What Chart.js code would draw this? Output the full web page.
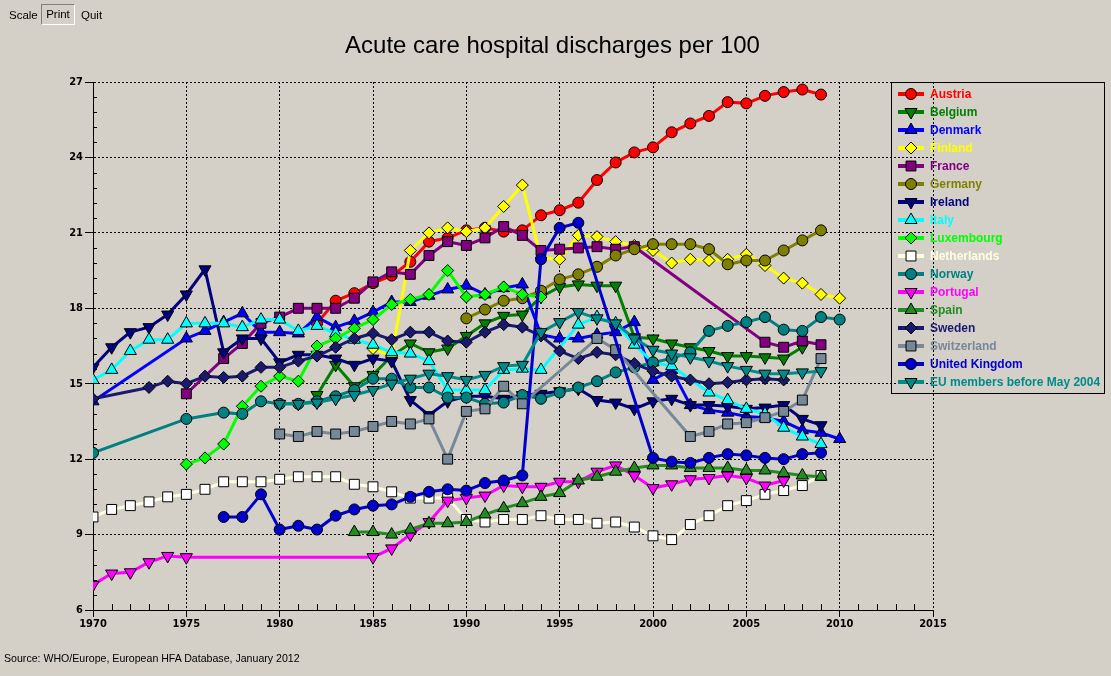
<!DOCTYPE html>
<html>
<head>
<meta charset="utf-8">
<script src="https://cdn.jsdelivr.net/npm/chart.js@4.4.1/dist/chart.umd.min.js"></script>
<style>
  html, body { margin:0; padding:0; }
  body { width:1111px; height:676px; overflow:hidden; position:relative; background:#d4d0c8; font-family:"Liberation Sans", Arial, sans-serif; }
  #chart { position:absolute; left:0; top:0; }
  .tb { position:absolute; top:7px; font-size:11.5px; color:#000; line-height:16px; }
  #btn { position:absolute; left:41px; top:4px; width:32px; height:19px; border-top:1px solid #808080; border-left:1px solid #808080; border-right:1px solid #fff; border-bottom:1px solid #fff; font-size:11.5px; line-height:19px; text-align:center; }
  #title { position:absolute; left:0; width:1105px; top:30px; text-align:center; font-size:24px; line-height:30px; color:#000; }
  #source { position:absolute; left:4px; top:651px; font-size:10.6px; line-height:14px; color:#000; }
</style>
</head>
<body>
<canvas id="chart" width="1111" height="676"></canvas>
<div class="tb" style="left:9px">Scale</div>
<div id="btn">Print</div>
<div class="tb" style="left:81px">Quit</div>
<div id="title">Acute care hospital discharges per 100</div>
<div id="source">Source: WHO/Europe, European HFA Database, January 2012</div>
<script>
const _ = null;
// years 1970 .. 2010
const years = [];
for (let y = 1970; y <= 2010; y++) years.push(y);

const xTicks = [1970, 1975, 1980, 1985, 1990, 1995, 2000, 2005, 2010, 2015];
const yTicks = [6, 9, 12, 15, 18, 21, 24, 27];

//               1970 ............................................ 1979 | 1980 ........................................... 1989 | 1990 ............................................ 1999 | 2000 ............................................ 2009 | 2010
const austria     = [_,_,_,_,_,_,_,_,_,_,                       _,_,17.4,18.3,18.6,19.0,19.3,19.85,20.65,20.8,               21.1,21.2,21.05,21.1,21.7,21.9,22.2,23.1,23.8,24.2,          24.4,25.0,25.35,25.65,26.2,26.15,26.45,26.6,26.7,26.5,      _];
const belgium     = [_,_,_,_,_,_,_,_,_,_,                       _,_,14.55,15.75,14.9,15.35,16.1,16.6,16.25,16.4,             16.9,17.4,17.7,17.75,18.45,18.85,18.95,18.9,18.9,16.85,      16.8,16.6,16.45,16.3,16.1,16.1,16.05,16.0,16.45,_,          _];
const denmark     = [14.3,_,_,_,_,16.8,17.1,17.45,17.8,17.05,   17.05,17.0,17.65,17.25,17.5,17.85,18.25,18.25,18.5,18.75,    18.9,18.55,18.8,18.95,16.95,16.8,16.8,16.95,17.05,17.45,     15.15,15.55,14.15,13.95,13.85,13.7,13.65,13.5,13.15,13.05,  12.8];
const finland     = [_,_,_,_,_,_,_,_,_,_,                       _,_,_,_,_,16.4,16.1,20.3,21.0,21.2,                          21.05,21.2,22.05,22.9,20.0,19.95,20.9,20.85,20.65,20.5,      20.3,19.8,19.95,19.9,19.95,20.15,19.7,19.2,19.0,18.55,      18.4];
const france      = [_,_,_,_,_,14.6,_,16.0,16.6,17.4,           17.65,18.0,18.0,18.0,18.4,19.05,19.45,19.35,20.1,20.65,      20.5,20.8,21.25,20.9,20.3,20.35,20.4,20.45,20.35,20.45,      _,_,_,_,_,_,16.65,16.45,16.7,16.55,                         _];
const germany     = [_,_,_,_,_,_,_,_,_,_,                       _,_,_,_,_,_,_,_,_,_,                                         17.6,17.95,18.3,18.4,18.7,19.15,19.35,19.65,20.1,20.35,      20.55,20.55,20.55,20.35,19.75,19.9,19.9,20.3,20.7,21.1,     _];
const ireland     = [15.65,16.45,17.05,17.25,17.75,18.55,19.55,16.25,16.8,16.8, 15.85,16.15,16.15,16.0,15.75,16.0,15.9,14.35,13.75,14.3, 14.5,14.5,14.4,14.55,14.6,14.7,14.8,14.35,14.25,14.0,         14.3,14.4,14.15,14.15,14.1,14.0,14.05,14.15,13.6,13.35,     _];
const italy       = [15.15,15.55,16.3,16.75,16.75,17.4,17.4,17.4,17.25,17.55, 17.55,17.1,17.3,17.0,16.75,16.55,16.25,16.2,15.9,14.75,  14.75,14.75,15.55,15.6,15.55,_,17.35,17.65,17.4,16.55,       15.85,15.7,_,14.65,14.35,14.0,13.8,13.25,12.9,12.6,         _];
const luxembourg  = [_,_,_,_,_,11.8,12.05,12.6,14.1,14.9,       15.3,15.1,16.5,16.8,17.2,17.55,18.15,18.35,18.55,19.5,       18.45,18.55,18.85,18.55,18.45,_,_,_,_,_,                     _,_,_,_,_,_,_,_,_,_,                                        _];
const netherlands = [9.7,10.0,10.15,10.3,10.5,10.6,10.8,11.1,11.1,11.1, 11.2,11.3,11.3,11.3,11.0,10.9,10.7,10.45,10.45,10.45,      9.6,9.5,9.6,9.6,9.75,9.6,9.6,9.45,9.5,9.3,                   8.95,8.8,9.4,9.75,10.15,10.35,10.6,10.75,10.95,11.35,       _];
const norway      = [12.25,_,_,_,_,13.6,_,13.85,13.8,14.3,      14.2,14.2,14.3,14.5,14.75,15.2,15.2,14.85,14.85,14.45,       14.45,14.2,14.25,14.55,14.4,14.65,14.85,15.1,15.45,15.65,    15.85,16.0,16.25,17.1,17.3,17.45,17.65,17.15,17.1,17.65,    17.55];
const portugal    = [7.0,7.45,7.5,7.9,8.15,8.1,_,_,_,_,         _,_,_,_,_,8.1,8.45,9.0,9.5,10.35,                            10.45,10.55,10.95,10.9,10.9,11.1,11.1,11.5,11.75,11.35,      10.85,11.0,11.2,11.25,11.35,11.25,10.95,11.15,_,_,          _];
const spain       = [_,_,_,_,_,_,_,_,_,_,                       _,_,_,_,9.1,9.1,9.0,9.2,9.45,9.45,                           9.5,9.8,10.05,10.25,10.5,10.65,11.15,11.3,11.5,11.65,        11.75,11.75,11.65,11.65,11.65,11.55,11.55,11.45,11.35,11.3, _];
const sweden      = [14.4,_,_,14.85,15.1,15.0,15.3,15.25,15.3,15.65, 15.65,15.9,16.1,16.45,16.8,17.0,16.75,17.05,17.05,16.7,    16.65,17.05,17.35,17.25,16.9,16.3,16.0,16.25,16.15,15.8,     15.5,15.3,15.15,15.0,15.05,15.15,15.2,15.15,_,_,            _];
const switzerland = [_,_,_,_,_,_,_,_,_,_,                       13.0,12.9,13.1,13.0,13.1,13.3,13.5,13.4,13.6,12.0,           13.9,14.0,14.9,14.2,_,_,_,16.8,16.35,_,                      _,_,12.9,13.1,13.4,13.45,13.65,13.9,14.35,16.0,             _];
const uk          = [_,_,_,_,_,_,_,9.7,9.7,10.6,                9.2,9.35,9.2,9.75,10.0,10.15,10.2,10.5,10.7,10.8,            10.75,11.05,11.15,11.35,19.95,21.2,21.4,_,_,_,               12.05,11.9,11.85,12.05,12.2,12.15,12.05,12.0,12.2,12.25,    _];
const eu          = [_,_,_,_,_,_,_,_,_,_,                       14.2,14.2,14.25,14.4,14.55,14.75,15.0,15.2,15.4,15.3,        15.15,15.35,15.7,15.75,17.05,17.45,17.85,17.6,17.4,16.8,     16.35,16.2,16.05,15.9,15.7,15.55,15.4,15.4,15.45,15.5,      _];

const seriesNames = ['Austria','Belgium','Denmark','Finland','France','Germany','Ireland','Italy','Luxembourg','Netherlands','Norway','Portugal','Spain','Sweden','Switzerland','United Kingdom','EU members before May 2004'];
const seriesValues = [austria,belgium,denmark,finland,france,germany,ireland,italy,luxembourg,netherlands,norway,portugal,spain,sweden,switzerland,uk,eu];
const seriesColors = ['#ff0000','#008000','#0000ff','#ffff00','#800080','#808000','#000080','#00ffff','#00ff00','#ffffe0','#008080','#ff00ff','#228b22','#191970','#778899','#0000cd','#008b8b'];
const markerFill   = ['#ff0000','#008000','#0000ff','#ffff00','#800080','#808000','#000080','#00ffff','#00ff00','#ffffff','#008080','#ff00ff','#228b22','#191970','#778899','#0000cd','#008b8b'];
// marker kinds: c = circle, dn = down triangle, up = up triangle, d = diamond, s = square
const markerKind   = ['c','dn','up','d','s','c','dn','up','d','s','c','dn','up','d','s','c','dn'];

function styleOf(k) {
  if (k === 'c') return {pointStyle:'circle', r:5.5, rot:0};
  if (k === 'dn') return {pointStyle:'triangle', r:7, rot:180};
  if (k === 'up') return {pointStyle:'triangle', r:7, rot:0};
  if (k === 'd') return {pointStyle:'rectRot', r:6, rot:0};
  return {pointStyle:'rect', r:7, rot:0};
}

const datasets = seriesNames.map((name, i) => {
  const st = styleOf(markerKind[i]);
  return {
    label: name,
    data: years.map((yr, j) => ({x: yr, y: seriesValues[i][j]})).filter(p => p.y !== null),
    borderColor: seriesColors[i],
    backgroundColor: markerFill[i],
    borderWidth: 3,
    pointStyle: st.pointStyle,
    pointRadius: st.r,
    pointRotation: st.rot,
    pointBackgroundColor: markerFill[i],
    pointBorderColor: '#000',
    pointBorderWidth: 1,
    tension: 0,
    fill: false,
    spanGaps: true,
    order: seriesNames.length - i
  };
});

function drawMarker(ctx, kind, x, y, fill) {
  const st = styleOf(kind);
  const r = st.r;
  ctx.save();
  ctx.fillStyle = fill; ctx.strokeStyle = '#000'; ctx.lineWidth = 1;
  ctx.beginPath();
  if (kind === 'c') { ctx.arc(x, y, r, 0, Math.PI * 2); }
  else if (kind === 'up' || kind === 'dn') {
    const s = kind === 'up' ? 1 : -1;
    for (let k = 0; k < 3; k++) {
      const a = k * 2 * Math.PI / 3;
      const px = x + Math.sin(a) * r * s, py = y - Math.cos(a) * r * s;
      if (k === 0) ctx.moveTo(px, py); else ctx.lineTo(px, py);
    }
    ctx.closePath();
  } else if (kind === 'd') {
    ctx.moveTo(x, y - r); ctx.lineTo(x + r, y); ctx.lineTo(x, y + r); ctx.lineTo(x - r, y); ctx.closePath();
  } else {
    const h = r * Math.SQRT1_2; ctx.rect(x - h, y - h, 2 * h, 2 * h);
  }
  ctx.fill(); ctx.stroke();
  ctx.restore();
}

const extrasPlugin = {
  id: 'extras',
  beforeDatasetsDraw(chart) {
    const ctx = chart.ctx;
    const xs = chart.scales.x, ys = chart.scales.y;
    const ca = chart.chartArea;
    ctx.save();
    ctx.strokeStyle = '#000'; ctx.lineWidth = 1;
    ctx.beginPath();
    for (let yr = 1971; yr < 2015; yr++) {
      if (yr % 5 === 0) continue;
      const px = Math.round(xs.getPixelForValue(yr)) + 0.5;
      ctx.moveTo(px, ca.bottom); ctx.lineTo(px, ca.bottom - 6);
    }
    for (let v = 6.6; v < 27; v += 0.6) {
      if (Math.abs(v / 3 - Math.round(v / 3)) < 0.01) continue;
      const py = Math.round(ys.getPixelForValue(v)) + 0.5;
      ctx.moveTo(ca.left, py); ctx.lineTo(ca.left + 4, py);
    }
    ctx.stroke();
    ctx.restore();
  },
  afterDraw(chart) {
    const ctx = chart.ctx;
    const lx = 891, ly = 82, lw = 213, lh = 311;
    ctx.save();
    ctx.strokeStyle = '#000'; ctx.lineWidth = 1;
    ctx.strokeRect(lx + 0.5, ly + 0.5, lw, lh);
    ctx.font = 'bold 12px "Liberation Sans", Arial, sans-serif';
    ctx.textBaseline = 'middle';
    seriesNames.forEach((name, i) => {
      const y = 94 + i * 18;
      ctx.strokeStyle = seriesColors[i]; ctx.lineWidth = 4;
      ctx.beginPath(); ctx.moveTo(898, y); ctx.lineTo(924, y); ctx.stroke();
      drawMarker(ctx, markerKind[i], 911, y, markerFill[i]);
      ctx.fillStyle = seriesColors[i];
      ctx.fillText(name, 930, y + 1);
    });
    ctx.restore();
  }
};

const tickFont = { family: '"Liberation Sans Narrow", "DejaVu Sans Condensed", "Liberation Sans", Arial, sans-serif', size: 11, weight: 'bold' };

new Chart(document.getElementById('chart').getContext('2d'), {
  type: 'line',
  data: { datasets },
  plugins: [extrasPlugin],
  options: {
    responsive: false,
    animation: false,
    devicePixelRatio: 1,
    events: [],
    layout: { padding: { left: 0, right: 178, top: 82, bottom: 0 } },
    plugins: { legend: { display: false }, tooltip: { enabled: false }, title: { display: false } },
    scales: {
      x: {
        type: 'linear', min: 1970, max: 2015,
        afterBuildTicks: s => { s.ticks = xTicks.map(v => ({ value: v })); },
        afterFit: s => { s.height = 66; },
        ticks: { color: '#000', font: tickFont, maxRotation: 0, autoSkip: false, padding: 1, callback: v => String(v) },
        grid: { color: '#000', lineWidth: 1, tickColor: '#000', tickLength: 7, tickBorderDash: [] },
        border: { display: true, color: '#000', width: 1, dash: [2, 2] }
      },
      y: {
        type: 'linear', min: 6, max: 27,
        afterBuildTicks: s => { s.ticks = yTicks.map(v => ({ value: v })); },
        afterFit: s => { s.width = 93; },
        ticks: { color: '#000', font: tickFont, padding: 2, callback: v => String(v) },
        grid: { color: '#000', lineWidth: 1, tickColor: '#000', tickLength: 8, tickBorderDash: [] },
        border: { display: true, color: '#000', width: 1, dash: [2, 2] }
      }
    }
  }
});
</script>
</body>
</html>
